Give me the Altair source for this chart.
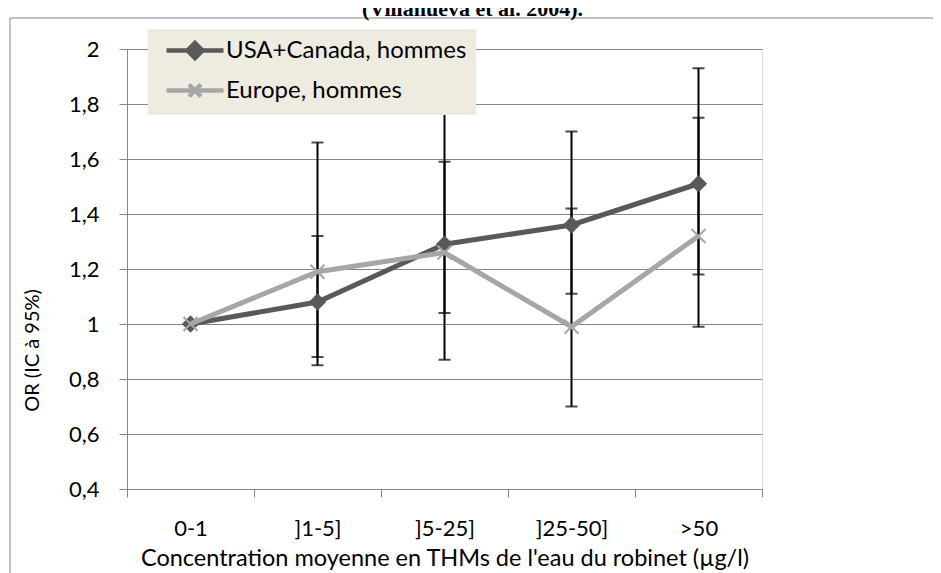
import altair as alt
import pandas as pd

# ---------------- data ----------------
cats = ["0-1", "]1-5]", "]5-25]", "]25-50]", ">50"]
series_names = ["USA+Canada, hommes", "Europe, hommes"]

usa_or = [1.00, 1.08, 1.29, 1.36, 1.51]
usa_lo = [None, 0.88, 1.04, 1.11, 1.18]
usa_hi = [None, 1.32, 1.59, 1.70, 1.93]

eu_or = [1.00, 1.19, 1.26, 0.99, 1.32]
eu_lo = [None, 0.85, 0.87, 0.70, 0.99]
eu_hi = [None, 1.66, 1.83, 1.42, 1.75]

y_ticks = [0.4, 0.6, 0.8, 1.0, 1.2, 1.4, 1.6, 1.8, 2.0]
title_text = "(Villanueva et al. 2004)."

rows = []
for name, o, lo, hi in [(series_names[0], usa_or, usa_lo, usa_hi),
                        (series_names[1], eu_or, eu_lo, eu_hi)]:
    for c, v, l, h in zip(cats, o, lo, hi):
        rows.append({"cat": c, "series": name, "orv": v, "lo": l, "hi": h})
df = pd.DataFrame(rows)

# ---------------- styles ----------------
USA_COL = "#595959"
EU_COL = "#A6A6A6"
GRID = "#868686"
FONT = "Lato"

x_enc = alt.X(
    "cat:N", sort=cats,
    scale=alt.Scale(domain=cats, paddingInner=0, paddingOuter=0),
    axis=alt.Axis(
        title="Concentration moyenne en THMs de l'eau du robinet (µg/l)",
        labelAngle=0, tickBand="extent", tickSize=8, tickColor=GRID,
        domainColor=GRID, grid=False, labelPadding=21,
        labelFont=FONT, labelFontSize=22, labelColor="black",
        titleFont=FONT, titleFontSize=23.5, titleFontWeight="normal",
        titleColor="black", titleY=76, titleBaseline="alphabetic",
    ),
)

y_axis = alt.Axis(
    title="OR (IC à 95%)", values=y_ticks,
    labelExpr="replace(format(datum.value, '.2~f'), '.', ',')",
    tickSize=8, tickColor=GRID, domainColor=GRID,
    grid=True, gridColor=GRID, gridWidth=1,
    labelPadding=20, labelFont=FONT, labelFontSize=22, labelColor="black",
    titleFont=FONT, titleFontSize=20, titleFontWeight="normal",
    titleColor="black", titleAngle=270, titleX=-89, titleY=301,
    titleAlign="center", titleBaseline="alphabetic",
)
y_scale = alt.Scale(domain=[0.4, 2.0], nice=False, zero=False)


def yq(field):
    return alt.Y(field, type="quantitative", scale=y_scale, axis=y_axis)


base = alt.Chart(df)
valid = "isValid(datum.lo)"

# chart frame and clipped title (decoration)
frame_df = pd.DataFrame({"k": [0]})
frame_left = alt.Chart(frame_df).mark_rule(color=GRID, strokeWidth=1).encode(
    x=alt.value(-117), y=alt.value(-31), y2=alt.value(700))
frame_top = alt.Chart(frame_df).mark_rule(color=GRID, strokeWidth=1).encode(
    x=alt.value(-117), x2=alt.value(1000), y=alt.value(-31))
title_mark = alt.Chart(pd.DataFrame({"t": [title_text]})).mark_text(
    font="Liberation Serif", fontSize=22, fontWeight="bold", color="black",
    align="center", baseline="alphabetic",
).encode(text="t:N", x=alt.value(345.5), y=alt.value(-33))

err_rule = base.transform_filter(valid).mark_rule(color="black", strokeWidth=2).encode(
    x=x_enc, y=yq("lo"), y2="hi:Q")
cap_lo = base.transform_filter(valid).mark_tick(color="black", size=12, thickness=2).encode(
    x=x_enc, y=yq("lo"))
cap_hi = base.transform_filter(valid).mark_tick(color="black", size=12, thickness=2).encode(
    x=x_enc, y=yq("hi"))

usa = base.transform_filter(alt.datum.series == series_names[0])
eu = base.transform_filter(alt.datum.series == series_names[1])

usa_line = usa.mark_line(color=USA_COL, strokeWidth=5).encode(x=x_enc, y=yq("orv"))
usa_pts = usa.mark_point(shape="diamond", filled=True, size=300, color=USA_COL,
                         opacity=1).encode(x=x_enc, y=yq("orv"))
eu_line = eu.mark_line(color=EU_COL, strokeWidth=5).encode(x=x_enc, y=yq("orv"))
eu_pts = eu.mark_point(shape="M-1,-1L1,1M-1,1L1,-1", filled=False, size=196,
                       color=EU_COL, strokeWidth=2, opacity=1).encode(x=x_enc, y=yq("orv"))

# legend (line + marker symbols)
path_usa = "M-0.3,0L5.4,0M2.55,-0.75L3.3,0L2.55,0.75L1.8,0Z"
path_eu = "M-0.3,0L5.4,0M1.95,-0.6L3.15,0.6M1.95,0.6L3.15,-0.6"
leg = alt.Legend(
    orient="none", legendX=21, legendY=-20, title=None,
    fillColor="#EEECE1", padding=9, symbolSize=400, symbolStrokeWidth=4.5,
    symbolOpacity=1, labelFont=FONT, labelFontSize=24, labelColor="black",
    labelOffset=44, rowPadding=8, labelLimit=500, direction="vertical",
)
legend_layer = base.mark_point(opacity=0, strokeWidth=4.5).encode(
    x=x_enc, y=yq("orv"),
    shape=alt.Shape("series:N", sort=series_names,
                    scale=alt.Scale(domain=series_names, range=[path_usa, path_eu]), legend=leg),
    stroke=alt.Stroke("series:N", sort=series_names,
                      scale=alt.Scale(domain=series_names, range=[USA_COL, EU_COL]), legend=leg),
    fill=alt.Fill("series:N", sort=series_names,
                  scale=alt.Scale(domain=series_names, range=[USA_COL, EU_COL]), legend=leg),
)

chart = alt.layer(
    frame_left, frame_top, title_mark, err_rule, cap_lo, cap_hi,
    usa_line, usa_pts, eu_line, eu_pts, legend_layer,
).properties(
    width=635, height=440,
    padding={"left": 119, "top": 41, "right": 171, "bottom": 84},
    autosize=alt.AutoSizeParams(type="none"),
).configure_view(stroke=None).configure(background="white")

chart.save("out.html", embed_options={"renderer": "svg", "actions": False})
